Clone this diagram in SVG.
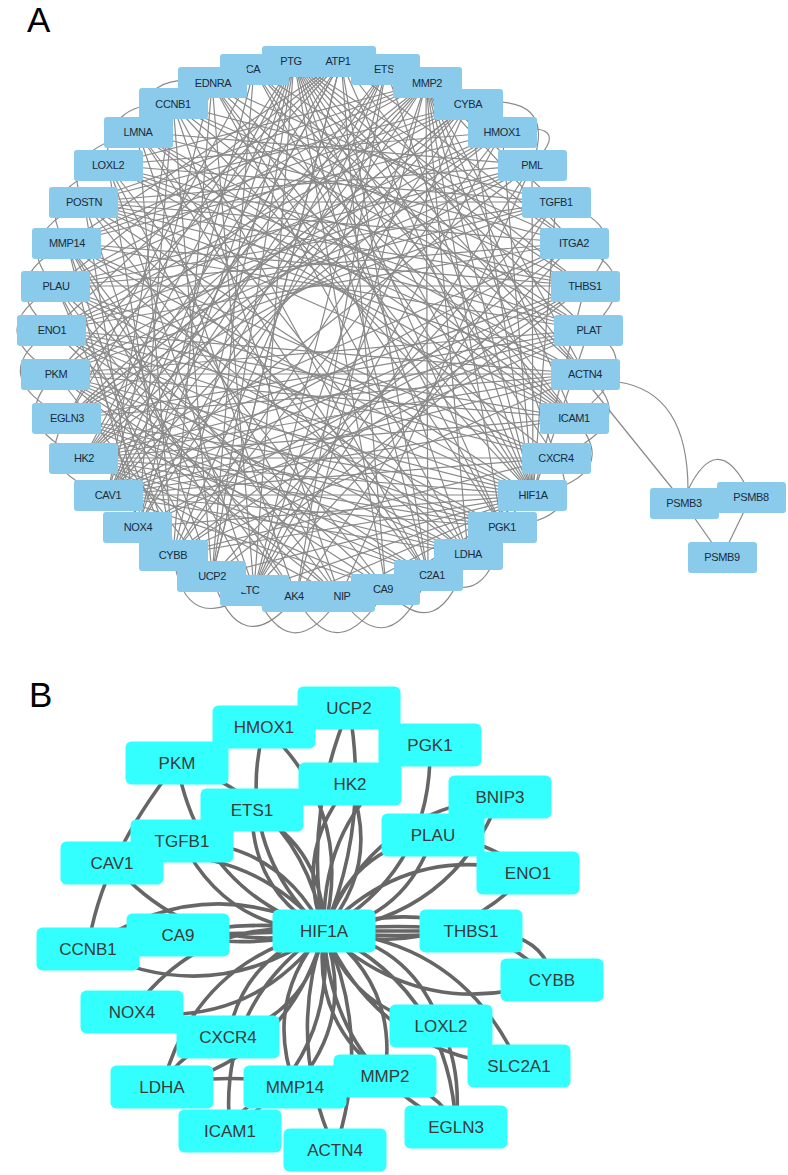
<svg xmlns="http://www.w3.org/2000/svg" width="788" height="1175" viewBox="0 0 788 1175">
<style>
.ea{stroke:#8a8a8a;stroke-width:1.2;fill:none}
.eb{stroke:#666;stroke-width:3.6;fill:none;stroke-linecap:round}
.na rect{fill:#8acbeb}
.na text{font-family:"Liberation Sans",Arial,sans-serif;font-size:11px;fill:#1a2c3a;text-anchor:middle;letter-spacing:-0.4px}
.nb rect{fill:#33ffff}
.nb text{font-family:"Liberation Sans",Arial,sans-serif;font-size:17px;fill:#3a3a3a;text-anchor:middle}
.lbl{font-family:"Liberation Sans",Arial,sans-serif;font-size:35px;fill:#000}
</style>
<rect width="788" height="1175" fill="#fff"/>
<text class="lbl" x="27" y="32">A</text>
<text class="lbl" x="29" y="707">B</text>

<g id="edges-a">
<path class="ea" d="M533 495L294 61M533 495L341 61M533 495L386 69M533 495L426 83M533 495L468 104M533 495L502 132M533 495L532 165M533 495L556 202M533 495L585 286M533 495L589 330M533 495L468 554M533 495L386 589M533 495L340 597M533 495L296 597M533 495L254 590M533 495L212 576M533 495L173 555M533 495L138 527M533 495L108 495M533 495L84 458M533 495L67 418M533 495L56 374M533 495L52 330M533 495L56 286M533 495L67 243M533 495L84 202M533 495L173 104M533 495L212 83M533 495L254 69"/>
<path class="ea" d="M426 83L556 202M426 83L574 243M426 83L585 374M426 83L574 418M426 83L556 458M426 83L502 527M426 83L468 554M426 83L428 575M426 83L296 597M426 83L254 590M426 83L138 527M426 83L108 495M426 83L84 458M426 83L67 418M426 83L56 374M426 83L56 286M426 83L67 243M426 83L84 202M426 83L108 165"/>
<path class="ea" d="M294 61L574 243M294 61L585 286M294 61L589 330M294 61L585 374M294 61L574 418M294 61L556 458M294 61L502 527M294 61L468 554M294 61L428 575M294 61L254 590M294 61L212 576M294 61L173 555M294 61L138 527M294 61L108 495M294 61L84 458M294 61L67 418"/>
<path class="ea" d="M341 61L428 575M341 61L386 589M341 61L212 576M341 61L108 495M341 61L84 458M341 61L56 374M341 61L52 330M341 61L56 286M341 61L67 243M341 61L574 243M341 61L585 374"/>
<path class="ea" d="M84 458L386 69M84 458L468 104M84 458L502 132M84 458L585 286M84 458L589 330M84 458L585 374M84 458L574 418M84 458L556 458M84 458L502 527M84 458L468 554M84 458L428 575M84 458L386 589M84 458L340 597"/>
<path class="ea" d="M108 495L341 61M108 495L386 69M108 495L468 104M108 495L574 243M108 495L585 286M108 495L589 330M108 495L585 374M108 495L574 418M108 495L556 458M108 495L502 527M108 495L468 554M108 495L386 589M108 495L173 104M108 495L212 83"/>
<path class="ea" d="M67 418L468 104M67 418L502 132M67 418L532 165M67 418L589 330M67 418L585 374M67 418L502 527M67 418L468 554M67 418L428 575"/>
<path class="ea" d="M56 374L502 132M56 374L532 165M56 374L556 202M56 374L585 374M56 374L574 418M56 374L502 527M56 374L468 554M56 374L428 575M56 374L386 589M56 374L340 597M56 374L212 576"/>
<path class="ea" d="M52 330L532 165M52 330L556 202M52 330L574 243M52 330L574 418M52 330L556 458M52 330L502 527M52 330L468 554M52 330L428 575M52 330L340 597"/>
<path class="ea" d="M56 286L556 202M56 286L574 243M56 286L585 286M56 286L556 458M56 286L502 527M56 286L386 589M56 286L296 597M56 286L212 576M56 286L173 555"/>
<path class="ea" d="M67 243L585 286M67 243L589 330M67 243L468 554M67 243L340 597M67 243L296 597M67 243L254 590M67 243L173 555M67 243L138 527"/>
<path class="ea" d="M84 202L585 286M84 202L589 330M84 202L585 374M84 202L468 554M84 202L386 589M84 202L212 576M84 202L138 527"/>
<path class="ea" d="M108 165L589 330M108 165L585 374M108 165L574 418M108 165L428 575M108 165L340 597M108 165L254 590M108 165L173 555"/>
<path class="ea" d="M138 132L585 374M138 132L574 418M138 132L556 458M138 132L428 575M138 132L296 597M138 132L173 555"/>
<path class="ea" d="M173 104L585 286M173 104L589 330M173 104L574 418M173 104L340 597M173 104L212 576M173 104L138 527"/>
<path class="ea" d="M212 83L574 243M212 83L589 330M212 83L574 418M212 83L502 527M212 83L254 590M212 83L173 555"/>
<path class="ea" d="M254 69L585 286M254 69L585 374M254 69L574 418M254 69L502 527M254 69L212 576M254 69L138 527M254 69L67 418"/>
<path class="ea" d="M468 104L254 590M468 104L67 418M468 104L52 330M468 104L56 286M468 104L67 243M468 104L84 202M502 132L254 590M502 132L52 330M502 132L67 243M502 132L108 165"/>
<path class="ea" d="M532 165L340 597M532 165L254 590M532 165L56 286M532 165L84 202M532 165L138 132M556 202L296 597M556 202L212 576M556 202L84 202M556 202L108 165M556 202L173 104M574 243L254 590M574 243L173 555M574 243L84 202M574 243L138 132M585 286L173 555M585 286L138 527M585 286L108 165"/>
<path class="ea" d="M138 527L386 69M138 527L589 330M173 555L386 69M173 555L585 374M173 555L556 458M212 576L341 61M212 576L585 286"/>
<path class="ea" d="M84 458L574 243M56 374L589 330M294 61L386 589M173 104L428 575M502 132L173 555M67 243L556 458M108 495L532 165M386 69L254 590"/>
<path class="ea" d="M386 69L296 597M52 330L585 374M84 202L574 418M212 83L468 554M468 554L138 132M173 555L468 104"/>
<path class="ea" d="M56 286Q-22 330 56 374M52 330Q-18 376 67 418M67 243Q-8 283 52 330M84 202Q8 240 56 286M108 165Q30 196 67 243M138 132Q56 152 84 202M56 374Q4 424 84 458M67 418Q30 470 108 495M173 104Q102 100 108 165M212 83Q140 68 138 132"/>
<path class="ea" d="M502 132Q578 118 532 165M468 104Q560 90 532 165M556 202Q640 226 585 286M574 243Q650 276 589 330M589 330Q650 360 574 418M585 374Q645 420 556 458M574 418Q625 475 533 495M556 458Q590 520 502 527"/>
<path class="ea" d="M173 555Q185 640 254 590M212 576Q240 665 296 597M254 590Q290 672 340 597M296 597Q338 672 386 589M340 597Q390 668 428 575M386 589Q440 650 468 554M428 575Q490 615 502 527"/>
<path class="ea" d="M580 374L684 503M618 382Q688 392 688 490M688 490Q716 432 745 484M684 503L722 557M751 497L722 557"/>
</g>

<g id="nodes-a">
<g id="a-ca" class="na"><rect x="220" y="54" width="69" height="31" rx="3"/><text x="253" y="73">CA</text></g>
<g id="a-ednra" class="na"><rect x="178" y="67" width="69" height="31" rx="3"/><text x="213" y="87">EDNRA</text></g>
<g id="a-ccnb1" class="na"><rect x="139" y="88" width="69" height="31" rx="3"/><text x="173" y="108">CCNB1</text></g>
<g id="a-lmna" class="na"><rect x="104" y="117" width="69" height="31" rx="3"/><text x="138" y="136">LMNA</text></g>
<g id="a-loxl2" class="na"><rect x="74" y="150" width="69" height="31" rx="3"/><text x="108" y="169">LOXL2</text></g>
<g id="a-postn" class="na"><rect x="49" y="187" width="69" height="31" rx="3"/><text x="84" y="206">POSTN</text></g>
<g id="a-mmp14" class="na"><rect x="32" y="228" width="69" height="31" rx="3"/><text x="67" y="247">MMP14</text></g>
<g id="a-plau" class="na"><rect x="21" y="271" width="69" height="31" rx="3"/><text x="56" y="290">PLAU</text></g>
<g id="a-eno1" class="na"><rect x="17" y="315" width="69" height="31" rx="3"/><text x="52" y="334">ENO1</text></g>
<g id="a-pkm" class="na"><rect x="21" y="359" width="69" height="31" rx="3"/><text x="56" y="378">PKM</text></g>
<g id="a-egln3" class="na"><rect x="32" y="403" width="69" height="31" rx="3"/><text x="67" y="422">EGLN3</text></g>
<g id="a-hk2" class="na"><rect x="49" y="443" width="69" height="31" rx="3"/><text x="84" y="462">HK2</text></g>
<g id="a-cav1" class="na"><rect x="74" y="480" width="69" height="31" rx="3"/><text x="108" y="499">CAV1</text></g>
<g id="a-nox4" class="na"><rect x="103" y="512" width="69" height="31" rx="3"/><text x="138" y="531">NOX4</text></g>
<g id="a-cybb" class="na"><rect x="139" y="540" width="69" height="31" rx="3"/><text x="173" y="559">CYBB</text></g>
<g id="a-ltc" class="na"><rect x="220" y="575" width="69" height="31" rx="3"/><text x="250" y="594">LTC</text></g>
<g id="a-ucp2" class="na"><rect x="177" y="561" width="69" height="31" rx="3"/><text x="212" y="580">UCP2</text></g>
<g id="a-c2a1" class="na"><rect x="394" y="560" width="69" height="31" rx="3"/><text x="432" y="579">C2A1</text></g>
<g id="a-nip" class="na"><rect x="306" y="581" width="69" height="31" rx="3"/><text x="342" y="600">NIP</text></g>
<g id="a-ak4" class="na"><rect x="262" y="581" width="69" height="31" rx="3"/><text x="294" y="600">AK4</text></g>
<g id="a-ca9" class="na"><rect x="351" y="574" width="69" height="31" rx="3"/><text x="383" y="593">CA9</text></g>
<g id="a-ldha" class="na"><rect x="434" y="539" width="69" height="31" rx="3"/><text x="468" y="558">LDHA</text></g>
<g id="a-pgk1" class="na"><rect x="468" y="512" width="69" height="31" rx="3"/><text x="502" y="531">PGK1</text></g>
<g id="a-hif1a" class="na"><rect x="498" y="480" width="69" height="31" rx="3"/><text x="533" y="499">HIF1A</text></g>
<g id="a-cxcr4" class="na"><rect x="522" y="443" width="69" height="31" rx="3"/><text x="556" y="462">CXCR4</text></g>
<g id="a-icam1" class="na"><rect x="540" y="403" width="69" height="31" rx="3"/><text x="574" y="422">ICAM1</text></g>
<g id="a-actn4" class="na"><rect x="551" y="359" width="69" height="31" rx="3"/><text x="585" y="378">ACTN4</text></g>
<g id="a-plat" class="na"><rect x="554" y="315" width="69" height="31" rx="3"/><text x="589" y="334">PLAT</text></g>
<g id="a-thbs1" class="na"><rect x="551" y="271" width="69" height="31" rx="3"/><text x="585" y="290">THBS1</text></g>
<g id="a-itga2" class="na"><rect x="540" y="228" width="69" height="31" rx="3"/><text x="574" y="247">ITGA2</text></g>
<g id="a-tgfb1" class="na"><rect x="522" y="187" width="69" height="31" rx="3"/><text x="556" y="206">TGFB1</text></g>
<g id="a-pml" class="na"><rect x="498" y="150" width="69" height="31" rx="3"/><text x="532" y="169">PML</text></g>
<g id="a-hmox1" class="na"><rect x="468" y="117" width="69" height="31" rx="3"/><text x="502" y="136">HMOX1</text></g>
<g id="a-cyba" class="na"><rect x="434" y="89" width="69" height="31" rx="3"/><text x="468" y="108">CYBA</text></g>
<g id="a-ptgs" class="na"><rect x="262" y="46" width="69" height="31" rx="3"/><text x="291" y="65">PTG</text></g>
<g id="a-atp1" class="na"><rect x="307" y="46" width="69" height="31" rx="3"/><text x="338" y="65">ATP1</text></g>
<g id="a-ets" class="na"><rect x="351" y="54" width="69" height="31" rx="3"/><text x="384" y="73">ETS</text></g>
<g id="a-mmp2" class="na"><rect x="393" y="67" width="69" height="31" rx="3"/><text x="427" y="87">MMP2</text></g>
<g id="a-psmb3" class="na"><rect x="650" y="488" width="69" height="31" rx="3"/><text x="684" y="507">PSMB3</text></g>
<g id="a-psmb8" class="na"><rect x="717" y="482" width="69" height="31" rx="3"/><text x="751" y="501">PSMB8</text></g>
<g id="a-psmb9" class="na"><rect x="688" y="542" width="69" height="31" rx="3"/><text x="722" y="561">PSMB9</text></g>
</g>

<g id="edges-b">
<path class="eb" d="M324 931Q370 823 349 708M324 931Q303 816 349 708M324 931Q355 811 264 727M324 931Q233 847 264 727M324 931Q301 803 177 763M324 931Q200 891 177 763M324 931Q381 865 350 784M324 931Q293 850 350 784M324 931Q324 849 252 810M324 931Q252 892 252 810M324 931Q280 843 182 841M324 931Q226 929 182 841M324 931Q238 833 112 863M324 931Q198 961 112 863"/>
<path class="eb" d="M324 931Q433 870 430 745M324 931Q321 806 430 745M324 931Q452 917 500 797M324 931Q372 811 500 797M324 931Q407 916 433 835M324 931Q350 850 433 835M324 931Q443 963 528 873M324 931Q409 841 528 873"/>
<path class="eb" d="M324 931L178 935M324 931Q251 918 178 935M324 931Q251 950 178 935M324 931Q201 869 88 949M324 931Q211 1011 88 949M324 931Q204 914 132 1012M324 931Q252 1029 132 1012M324 931Q244 955 228 1037M324 931Q308 1013 228 1037M324 931Q196 960 162 1087M324 931Q290 1058 162 1087"/>
<path class="eb" d="M324 931Q263 1000 295 1087M324 931Q356 1018 295 1087M324 931Q217 1003 230 1131M324 931Q337 1059 230 1131M324 931Q286 1043 335 1150M324 931Q373 1038 335 1150M324 931Q311 1022 385 1076M324 931Q398 985 385 1076"/>
<path class="eb" d="M324 931L471 931M324 931Q397 922 471 931M324 931Q397 940 471 931M324 931Q423 1024 552 980M324 931Q453 887 552 980M324 931Q354 1014 441 1026M324 931Q411 943 441 1026M324 931Q381 1057 519 1066M324 931Q462 940 519 1066M324 931Q331 1069 456 1127M324 931Q449 989 456 1127"/>
<path class="eb" d="M177 763Q100 860 88 949M471 931Q545 930 552 980M385 1076Q440 1090 456 1127M441 1026Q462 1070 456 1127M162 1087Q230 1070 295 1087M433 835Q490 840 528 873M295 1087Q240 1100 230 1131M228 1037Q180 1050 162 1087"/>
</g>

<g id="nodes-b">
<g id="b-ucp2" class="nb"><rect x="297.5" y="686.5" width="103" height="43" rx="6"/><text x="349" y="714">UCP2</text></g>
<g id="b-hmox1" class="nb"><rect x="212.5" y="705.5" width="103" height="43" rx="6"/><text x="264" y="733">HMOX1</text></g>
<g id="b-pkm" class="nb"><rect x="125.5" y="741.5" width="103" height="43" rx="6"/><text x="177" y="769">PKM</text></g>
<g id="b-pgk1" class="nb"><rect x="378.5" y="723.5" width="103" height="43" rx="6"/><text x="430" y="751">PGK1</text></g>
<g id="b-hk2" class="nb"><rect x="298.5" y="762.5" width="103" height="43" rx="6"/><text x="350" y="790">HK2</text></g>
<g id="b-ets1" class="nb"><rect x="200.5" y="788.5" width="103" height="43" rx="6"/><text x="252" y="816">ETS1</text></g>
<g id="b-bnip3" class="nb"><rect x="448.5" y="775.5" width="103" height="43" rx="6"/><text x="500" y="803">BNIP3</text></g>
<g id="b-cav1" class="nb"><rect x="60.5" y="841.5" width="103" height="43" rx="6"/><text x="112" y="869">CAV1</text></g>
<g id="b-tgfb1" class="nb"><rect x="130.5" y="819.5" width="103" height="43" rx="6"/><text x="182" y="847">TGFB1</text></g>
<g id="b-plau" class="nb"><rect x="381.5" y="813.5" width="103" height="43" rx="6"/><text x="433" y="841">PLAU</text></g>
<g id="b-eno1" class="nb"><rect x="476.5" y="851.5" width="103" height="43" rx="6"/><text x="528" y="879">ENO1</text></g>
<g id="b-hif1a" class="nb"><rect x="272.5" y="909.5" width="103" height="43" rx="6"/><text x="324" y="937">HIF1A</text></g>
<g id="b-ccnb1" class="nb"><rect x="36.5" y="927.5" width="103" height="43" rx="6"/><text x="88" y="955">CCNB1</text></g>
<g id="b-ca9" class="nb"><rect x="126.5" y="913.5" width="103" height="43" rx="6"/><text x="178" y="941">CA9</text></g>
<g id="b-thbs1" class="nb"><rect x="419.5" y="909.5" width="103" height="43" rx="6"/><text x="471" y="937">THBS1</text></g>
<g id="b-cybb" class="nb"><rect x="500.5" y="958.5" width="103" height="43" rx="6"/><text x="552" y="986">CYBB</text></g>
<g id="b-nox4" class="nb"><rect x="80.5" y="990.5" width="103" height="43" rx="6"/><text x="132" y="1018">NOX4</text></g>
<g id="b-cxcr4" class="nb"><rect x="176.5" y="1015.5" width="103" height="43" rx="6"/><text x="228" y="1043">CXCR4</text></g>
<g id="b-loxl2" class="nb"><rect x="389.5" y="1004.5" width="103" height="43" rx="6"/><text x="441" y="1032">LOXL2</text></g>
<g id="b-slc2a1" class="nb"><rect x="467.5" y="1044.5" width="103" height="43" rx="6"/><text x="519" y="1072">SLC2A1</text></g>
<g id="b-ldha" class="nb"><rect x="110.5" y="1065.5" width="103" height="43" rx="6"/><text x="162" y="1093">LDHA</text></g>
<g id="b-mmp2" class="nb"><rect x="333.5" y="1054.5" width="103" height="43" rx="6"/><text x="385" y="1082">MMP2</text></g>
<g id="b-mmp14" class="nb"><rect x="243.5" y="1065.5" width="103" height="43" rx="6"/><text x="295" y="1093">MMP14</text></g>
<g id="b-icam1" class="nb"><rect x="178.5" y="1109.5" width="103" height="43" rx="6"/><text x="230" y="1137">ICAM1</text></g>
<g id="b-actn4" class="nb"><rect x="283.5" y="1128.5" width="103" height="43" rx="6"/><text x="335" y="1156">ACTN4</text></g>
<g id="b-egln3" class="nb"><rect x="404.5" y="1105.5" width="103" height="43" rx="6"/><text x="456" y="1133">EGLN3</text></g>
</g>
</svg>
